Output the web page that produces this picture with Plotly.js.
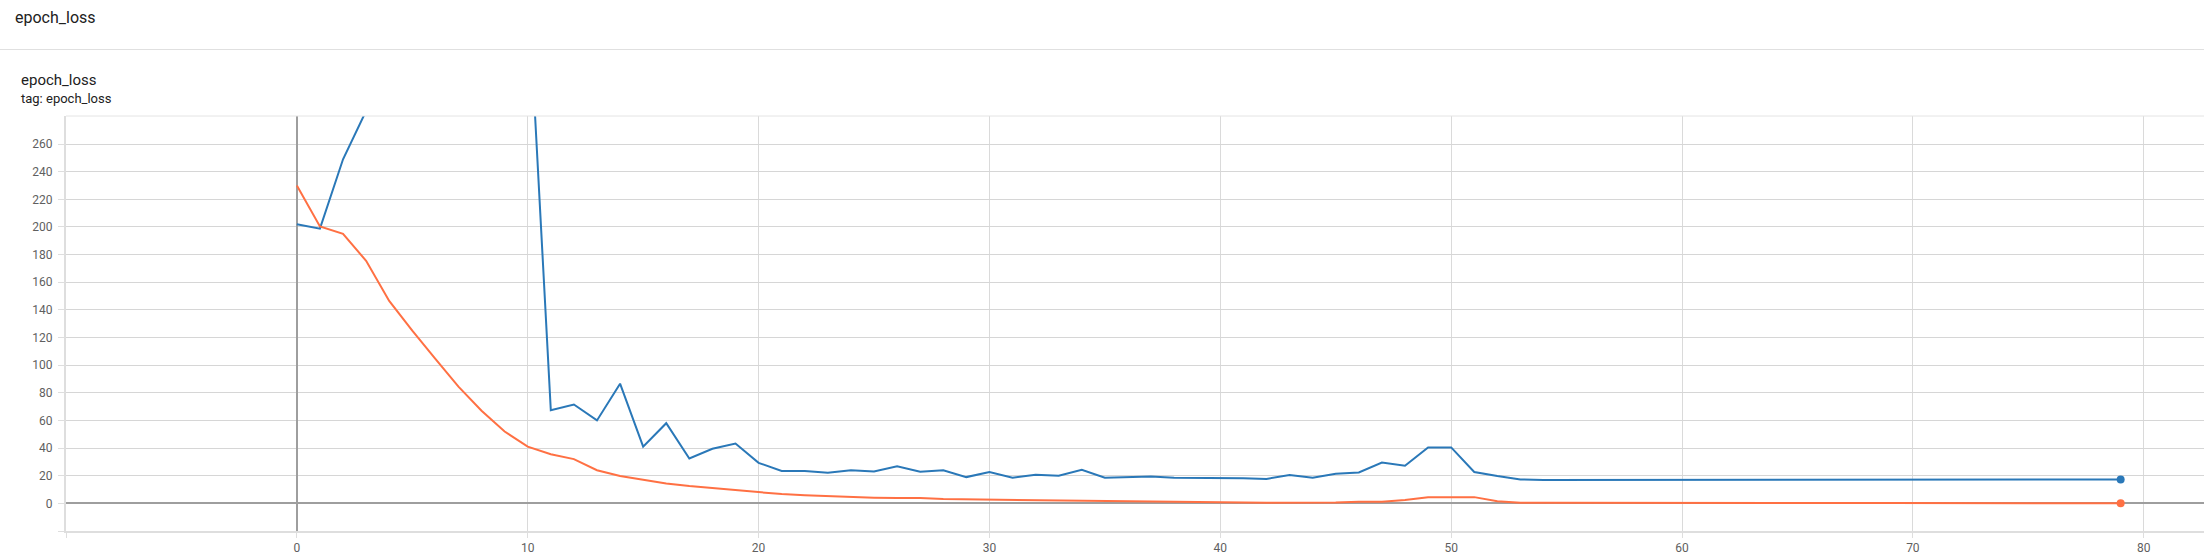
<!DOCTYPE html>
<html>
<head>
<meta charset="utf-8">
<script src="https://cdn.plot.ly/plotly-3.0.1.min.js"></script>
<style>
  html, body { margin: 0; padding: 0; background: #fff; width: 2204px; height: 556px; overflow: hidden; font-family: Roboto, "Noto Sans", sans-serif; }
  #wrap { position: relative; width: 2204px; height: 556px; }
  #chart { position: absolute; left: 0; top: 0; width: 2204px; height: 556px; }
  .hdr { position: absolute; color: #212121; white-space: nowrap; z-index: 5; }
  #t1 { left: 15px; top: 8px; font-size: 16px; line-height: 20px; }
  #sep { position: absolute; left: 0; top: 49px; width: 2204px; height: 1px; background: #e0e0e0; z-index: 5; }
  #t2 { left: 21px; top: 71px; font-size: 15px; line-height: 18px; }
  #t3 { left: 21px; top: 91px; font-size: 13px; line-height: 15px; color: #212121; }
</style>
</head>
<body>
<div id="wrap">
  <div id="chart"></div>
  <div class="hdr" id="t1">epoch_loss</div>
  <div id="sep"></div>
  <div class="hdr" id="t2">epoch_loss</div>
  <div class="hdr" id="t3">tag: epoch_loss</div>
</div>
<script>
// ---- data ----
const steps = Array.from({length: 80}, (_, i) => i);

const trainLoss = [
  230, 200.4, 195, 175.5, 146.5, 125, 104.5, 84.5, 67, 52,
  41, 35.5, 32, 24, 19.8, 17, 14.4, 12.5, 11, 9.6,
  7.7, 6.7, 5.8, 5.1, 4.7, 4.1, 3.9, 3.8, 3.1, 2.9,
  2.7, 2.2, 1.9, 1.7, 1.9, 1.7, 1.5, 1.2, 0.9, 0.8,
  0.7, 0.6, 0.5, 0.5, 0.5, 0.7, 1.2, 1.2, 2.4, 4.5,
  4.5, 4.5, 1.5, 0.5, 0.4, 0.35, 0.33, 0.31, 0.3, 0.28,
  0.27, 0.26, 0.25, 0.24, 0.23, 0.22, 0.21, 0.2, 0.19, 0.18,
  0.17, 0.16, 0.15, 0.14, 0.13, 0.12, 0.12, 0.11, 0.11, 0.1
];

const valLoss = [
  202, 198.8, 249, 284, 330, 380, 420, 440, 430, 405,
  380, 67.4, 71.5, 60, 86.6, 41, 58, 32.5, 39.5, 43.3,
  29.3, 23.5, 23.4, 22.1, 24, 23, 26.8, 22.9, 24, 19,
  22.7, 18.6, 20.7, 20, 24.3, 18.6, 19, 19.5, 18.6, 18.6,
  18.2, 18.1, 17.7, 20.5, 18.6, 21.4, 22.3, 29.6, 27.2, 40.5,
  40.5, 22.7, 19.8, 17.3, 16.9, 16.9, 16.9, 16.9, 16.9, 16.9,
  16.9, 16.9, 16.9, 16.95, 17, 17, 17.05, 17.05, 17.1, 17.1,
  17.1, 17.15, 17.15, 17.2, 17.2, 17.2, 17.2, 17.25, 17.25, 17.3
];

const xTickVals = [-10, 0, 10, 20, 30, 40, 50, 60, 70, 80];
const xTickText = ['', '0', '10', '20', '30', '40', '50', '60', '70', '80'];
const yTickVals = [-20, 0, 20, 40, 60, 80, 100, 120, 140, 160, 180, 200, 220, 240, 260];
const yTickText = ['', '0', '20', '40', '60', '80', '100', '120', '140', '160', '180', '200', '220', '240', '260'];

const blue = '#2a78b8';
const orange = '#ff7043';

const lastIdx = steps.length - 1;

const traces = [
  { x: steps, y: valLoss, type: 'scatter', mode: 'lines', line: {color: blue, width: 2}, cliponaxis: true, hoverinfo: 'skip' },
  { x: steps, y: trainLoss, type: 'scatter', mode: 'lines', line: {color: orange, width: 2}, cliponaxis: true, hoverinfo: 'skip' },
  { x: [steps[lastIdx]], y: [valLoss[lastIdx]], type: 'scatter', mode: 'markers', marker: {color: blue, size: 8}, hoverinfo: 'skip' },
  { x: [steps[lastIdx]], y: [trainLoss[lastIdx]], type: 'scatter', mode: 'markers', marker: {color: orange, size: 8}, hoverinfo: 'skip' }
];

const layout = {
  width: 2204,
  height: 556,
  margin: {l: 66, r: 0, t: 116, b: 25, pad: 0},
  paper_bgcolor: '#ffffff',
  plot_bgcolor: '#ffffff',
  showlegend: false,
  hovermode: false,
  font: {family: 'Roboto, "Noto Sans", sans-serif', size: 12, color: '#5f5f5f'},
  xaxis: {
    range: [-10, 82.61],
    tickmode: 'array',
    tickvals: xTickVals,
    ticktext: xTickText,
    showgrid: true,
    gridcolor: '#dadada',
    gridwidth: 1,
    zeroline: true,
    zerolinecolor: '#9e9e9e',
    zerolinewidth: 2,
    showline: true,
    linecolor: '#dedede',
    linewidth: 2,
    mirror: false,
    ticks: 'outside',
    ticklen: 5,
    tickcolor: '#dedede',
    tickfont: {size: 12, color: '#5f5f5f'},
    fixedrange: true
  },
  yaxis: {
    range: [-20, 280.3],
    tickmode: 'array',
    tickvals: yTickVals,
    ticktext: yTickText,
    showgrid: true,
    gridcolor: '#d6d6d6',
    gridwidth: 1,
    zeroline: true,
    zerolinecolor: '#9e9e9e',
    zerolinewidth: 2,
    showline: true,
    linecolor: '#dedede',
    linewidth: 2,
    ticks: 'outside',
    ticklen: 6,
    tickcolor: '#dedede',
    ticklabelstandoff: 3,
    tickfont: {size: 12, color: '#5f5f5f'},
    fixedrange: true
  },
  shapes: [
    {type: 'line', xref: 'paper', yref: 'paper', x0: 0, x1: 1, y0: 1, y1: 1, line: {color: '#e4e4e4', width: 1}}
  ]
};

Plotly.newPlot('chart', traces, layout, {displayModeBar: false, staticPlot: true});
</script>
</body>
</html>
